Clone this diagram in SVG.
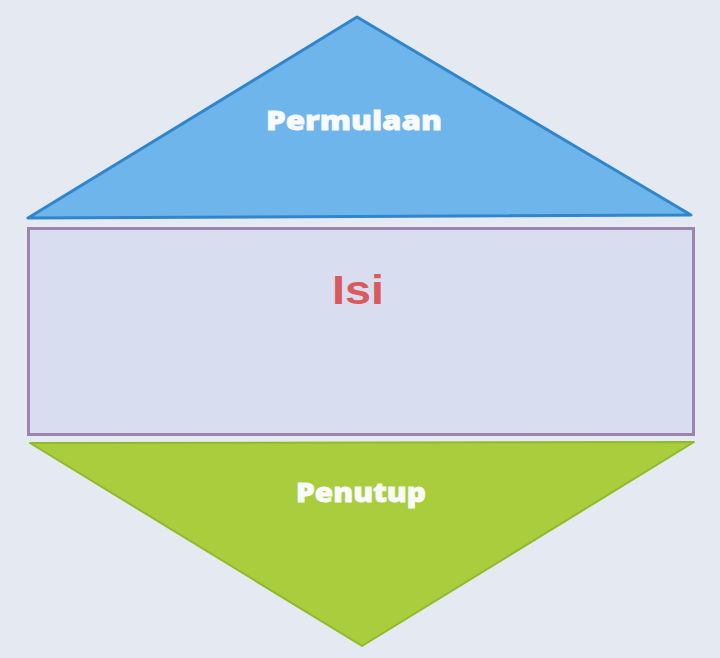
<svg xmlns="http://www.w3.org/2000/svg" width="720" height="658" viewBox="0 0 720 658">
<style>
.lbl{font-family:"Open Sans","DejaVu Sans",sans-serif;font-weight:800;text-anchor:middle}
.white{fill:#f8fafc;stroke:#f8fafc;stroke-width:0.8}
</style>
<rect width="720" height="658" fill="#e5e9f2"/>
<g id="permulaan">
<polygon points="357,17 28,218 691,215" fill="#6db5ea" stroke="#2f86cc" stroke-width="3" stroke-linejoin="round"/>
<text class="lbl white" x="354" y="130" font-size="27" textLength="176" lengthAdjust="spacingAndGlyphs">Permulaan</text>
</g>
<g id="isi">
<rect x="28.5" y="228.5" width="665" height="206" fill="#d9ddf0" stroke="#9c84ac" stroke-width="3"/>
<text x="358" y="304" font-family="'Liberation Sans',Arial,sans-serif" font-weight="700" text-anchor="middle" font-size="40" fill="#d95a5c" textLength="52" lengthAdjust="spacingAndGlyphs">Isi</text>
</g>
<g id="penutup">
<polygon points="30,443 694,442 362,646" fill="#a9cd3c" stroke="#8fba2e" stroke-width="2" stroke-linejoin="round"/>
<text class="lbl white" x="361" y="502" font-size="26" textLength="130" lengthAdjust="spacingAndGlyphs">Penutup</text>
</g>
<g id="connectors"/>
</svg>
